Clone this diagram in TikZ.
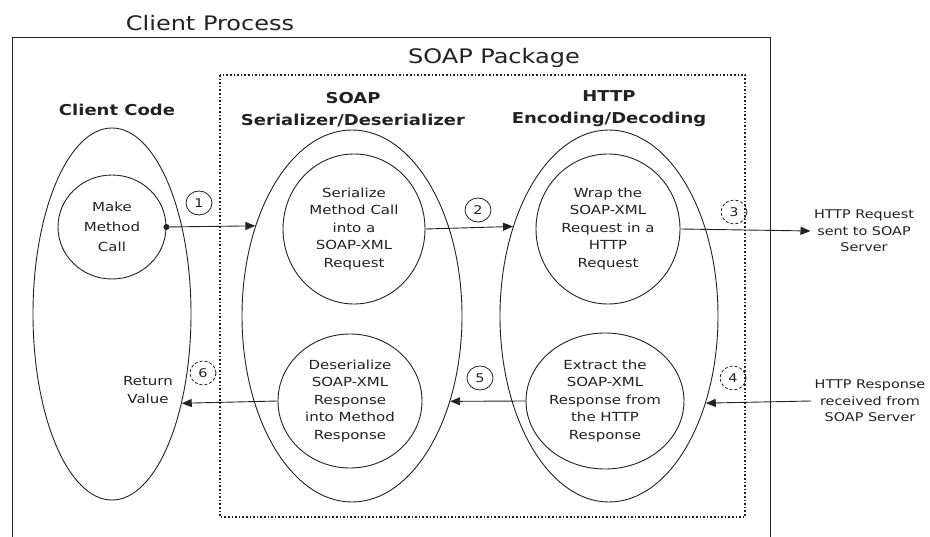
\documentclass[tikz,border=0pt]{standalone}
\usepackage{fontspec}
\setmainfont{DejaVu Sans}[FakeStretch=1.2]
\usetikzlibrary{shapes.geometric,arrows.meta}
\definecolor{ink}{HTML}{222222}
\begin{document}
\begin{tikzpicture}[x=1pt,y=-1pt,
  ell/.style={ellipse, draw=ink, line width=0.9pt, inner sep=0pt},
  body/.style={text=ink, font=\fontsize{12.5}{17.5}\selectfont, align=center},
  head/.style={text=ink, font=\bfseries\fontsize{15}{22}\selectfont, align=center},
  title/.style={text=ink, font=\fontsize{20}{24}\selectfont},
  num/.style={ellipse, draw=ink, line width=0.8pt, minimum width=26pt, minimum height=24pt, inner sep=0pt, text=ink, font=\fontsize{12}{12}\selectfont},
  arr/.style={draw=ink, -{Triangle[length=10pt,width=8pt]}, line width=0.9pt}]
\useasboundingbox (0,0) rectangle (930,537);
\fill[white] (0,0) rectangle (930,537);
% frames
\draw[ink, line width=0.9pt] (12,537) -- (12,37) -- (770,37) -- (770,537);
\draw[ink, line width=1.6pt, dotted] (220,75) rectangle (745,517);
\node[title] (cp) at (210,23) {Client Process};
\node[title] (sp) at (494,58) {SOAP Package};
% headings
\node[head] (hc) at (117,110) {Client Code};
\node[head] (hs) at (353,110) {SOAP\\Serializer/Deserializer};
\node[head] (hh) at (609,109) {HTTP\\Encoding/Decoding};
% big ellipses
\node[ell, minimum width=158pt, minimum height=372pt] (C) at (112,314) {};
\node[ell, minimum width=220pt, minimum height=372pt] (S) at (352,316) {};
\node[ell, minimum width=218pt, minimum height=372pt] (H) at (609,316) {};
% inner circles
\node[ell, body, minimum width=108pt, minimum height=104pt, font=\fontsize{12.5}{20}\selectfont] (M) at (112,227) {Make\\Method\\Call};
\node[ell, body, minimum width=142pt, minimum height=150pt] (SR) at (354,229) {Serialize\\Method Call\\into a\\SOAP-XML\\Request};
\node[ell, body, minimum width=144pt, minimum height=150pt] (W) at (608,229) {Wrap the\\SOAP-XML\\Request in a\\HTTP\\Request};
\node[ell, body, minimum width=144pt, minimum height=134pt] (D) at (350,401) {Deserialize\\SOAP-XML\\Response\\into Method\\Response};
\node[ell, body, minimum width=142pt, minimum height=136pt] (E) at (605,401) {Extract the\\SOAP-XML\\Response from\\the HTTP\\Response};
% outside texts
\node[body, font=\fontsize{12}{16.5}\selectfont] (req) at (864,231) {HTTP Request\\sent to SOAP\\Server};
\node[body, font=\fontsize{12}{16.5}\selectfont] (resp) at (870,401) {HTTP Response\\received from\\SOAP Server};
\node[body] (rv) at (148,390) {Return\\Value};
% arrows
\fill[ink] (M.east) circle (3pt);
\draw[arr] (M.east) -- (S.137.35);
\draw[arr] (SR.east) -- (H.137.9);
\draw[arr] (W.east) -- (req.west);
\draw[arr] (resp.west) -- (H.318.76);
\draw[arr] (E.west) -- (S.319);
\draw[arr] (D.west) -- (C.308.74);
% step numbers
\node[num] (n1) at (199,203) {1};
\node[num] (n2) at (478,210) {2};
\node[num, densely dashed] (n3) at (734,212) {3};
\node[num, densely dashed] (n4) at (733,378) {4};
\node[num] (n5) at (480,378) {5};
\node[num, densely dashed] (n6) at (203,373) {6};
\end{tikzpicture}
\end{document}
